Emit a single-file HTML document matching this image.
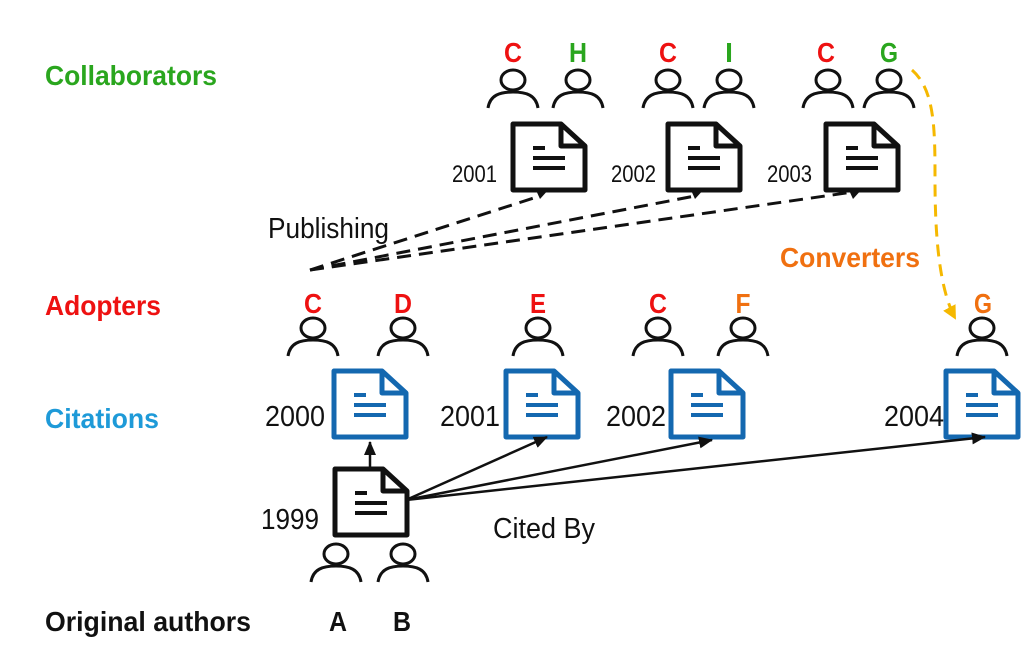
<!DOCTYPE html>
<html><head><meta charset="utf-8"><style>
html,body{margin:0;padding:0;background:#fff;}
svg{display:block;font-family:"Liberation Sans",sans-serif;}
</style></head><body>
<svg width="1036" height="658" viewBox="0 0 1036 658" xmlns="http://www.w3.org/2000/svg">
<defs>
<g id="p" fill="none" stroke="#111" stroke-width="3">
 <ellipse cx="0" cy="-2" rx="12" ry="10"/>
 <path d="M-25,26 C-23,13 -13,10 0,10 C13,10 23,13 25,26"/>
</g>
<g id="d" fill="none" stroke="#111" stroke-width="5" stroke-linejoin="round">
 <path d="M0,0 H48 L72,22 V66 H0 Z"/>
 <path d="M48,0 V22 H72"/>
 <path d="M20,24 H32 M20,34 H52 M20,44 H52" stroke-width="4"/>
</g>
<g id="db" fill="none" stroke="#1468b0" stroke-width="5" stroke-linejoin="round">
 <path d="M0,0 H48 L72,22 V66 H0 Z"/>
 <path d="M48,0 V22 H72"/>
 <path d="M20,24 H32 M20,34 H52 M20,44 H52" stroke-width="4"/>
</g>
<marker id="ah" markerWidth="14" markerHeight="12" refX="13" refY="6" orient="auto" markerUnits="userSpaceOnUse"><path d="M0,0 L14,6 L0,12 Z" fill="#111"/></marker>
<marker id="ao" markerWidth="14" markerHeight="14" refX="12" refY="7" orient="auto" markerUnits="userSpaceOnUse"><path d="M0,0 L14,7 L0,14 Z" fill="#f5b800"/></marker>
</defs>

<g font-weight="bold" font-size="28">
<text x="45" y="85" fill="#2aa61e" textLength="172" lengthAdjust="spacingAndGlyphs">Collaborators</text>
<text x="45" y="315" fill="#ee1111" textLength="116" lengthAdjust="spacingAndGlyphs">Adopters</text>
<text x="45" y="428" fill="#1e9ad8" textLength="114" lengthAdjust="spacingAndGlyphs">Citations</text>
<text x="45" y="631" fill="#111" textLength="206" lengthAdjust="spacingAndGlyphs">Original authors</text>
<text x="780" y="267" fill="#f07010" textLength="140" lengthAdjust="spacingAndGlyphs">Converters</text>
</g>

<g font-weight="bold" font-size="28" text-anchor="middle">
<text x="513" y="62" fill="#ee1111" textLength="18" lengthAdjust="spacingAndGlyphs">C</text><text x="578" y="62" fill="#2aa61e" textLength="18" lengthAdjust="spacingAndGlyphs">H</text>
<text x="668" y="62" fill="#ee1111" textLength="18" lengthAdjust="spacingAndGlyphs">C</text><text x="729" y="62" fill="#2aa61e">I</text>
<text x="826" y="62" fill="#ee1111" textLength="18" lengthAdjust="spacingAndGlyphs">C</text><text x="889" y="62" fill="#2aa61e" textLength="18" lengthAdjust="spacingAndGlyphs">G</text>
<text x="313" y="313" fill="#ee1111" textLength="18" lengthAdjust="spacingAndGlyphs">C</text><text x="403" y="313" fill="#ee1111" textLength="18" lengthAdjust="spacingAndGlyphs">D</text>
<text x="538" y="313" fill="#ee1111" textLength="16" lengthAdjust="spacingAndGlyphs">E</text><text x="658" y="313" fill="#ee1111" textLength="18" lengthAdjust="spacingAndGlyphs">C</text>
<text x="743" y="313" fill="#f07010" textLength="15" lengthAdjust="spacingAndGlyphs">F</text><text x="983" y="313" fill="#f07010" textLength="18" lengthAdjust="spacingAndGlyphs">G</text>
<text x="338" y="631" fill="#111" textLength="18" lengthAdjust="spacingAndGlyphs">A</text><text x="402" y="631" fill="#111" textLength="18" lengthAdjust="spacingAndGlyphs">B</text>
</g>

<use href="#p" x="513" y="82"/><use href="#p" x="578" y="82"/>
<use href="#p" x="668" y="82"/><use href="#p" x="729" y="82"/>
<use href="#p" x="828" y="82"/><use href="#p" x="889" y="82"/>
<use href="#p" x="313" y="330"/><use href="#p" x="403" y="330"/>
<use href="#p" x="538" y="330"/><use href="#p" x="658" y="330"/>
<use href="#p" x="743" y="330"/><use href="#p" x="982" y="330"/>
<use href="#p" x="336" y="556"/><use href="#p" x="403" y="556"/>

<use href="#d" x="513" y="124"/><use href="#d" x="668" y="124"/><use href="#d" x="826" y="124"/>
<g fill="#111"><path d="M535,188 L550,188 L540,199 Z"/><path d="M690,188 L705,188 L695,199 Z"/><path d="M848,188 L863,188 L853,199 Z"/></g>
<use href="#db" x="334" y="371"/><use href="#db" x="506" y="371"/><use href="#db" x="671" y="371"/><use href="#db" x="946" y="371"/>
<use href="#d" x="335" y="469"/>

<g font-size="24" fill="#111">
<text x="452" y="182" textLength="45" lengthAdjust="spacingAndGlyphs">2001</text>
<text x="611" y="182" textLength="45" lengthAdjust="spacingAndGlyphs">2002</text>
<text x="767" y="182" textLength="45" lengthAdjust="spacingAndGlyphs">2003</text>
</g>
<g font-size="29" fill="#111">
<text x="265" y="426" textLength="60" lengthAdjust="spacingAndGlyphs">2000</text>
<text x="440" y="426" textLength="60" lengthAdjust="spacingAndGlyphs">2001</text>
<text x="606" y="426" textLength="60" lengthAdjust="spacingAndGlyphs">2002</text>
<text x="884" y="426" textLength="60" lengthAdjust="spacingAndGlyphs">2004</text>
<text x="261" y="529" textLength="58" lengthAdjust="spacingAndGlyphs">1999</text>
<text x="268" y="238" textLength="121" lengthAdjust="spacingAndGlyphs">Publishing</text>
<text x="493" y="538" textLength="102" lengthAdjust="spacingAndGlyphs">Cited By</text>
</g>

<g stroke="#111" stroke-width="3" stroke-dasharray="14,8" fill="none">
<line x1="310" y1="270" x2="540" y2="196"/>
<line x1="310" y1="270" x2="695" y2="196"/>
<line x1="310" y1="270" x2="853" y2="192"/>
</g>
<g stroke="#111" stroke-width="2.5" fill="none" marker-end="url(#ah)">
<line x1="370" y1="467" x2="370" y2="442"/>
<line x1="406" y1="500" x2="547" y2="437"/>
<line x1="406" y1="500" x2="712" y2="440"/>
<line x1="406" y1="500" x2="985" y2="437"/>
</g>
<path d="M912,70 C935,90 935,130 935,180 C935,240 940,290 955,318" fill="none" stroke="#f5b800" stroke-width="3" stroke-dasharray="12,8" marker-end="url(#ao)"/>
</svg>
</body></html>
